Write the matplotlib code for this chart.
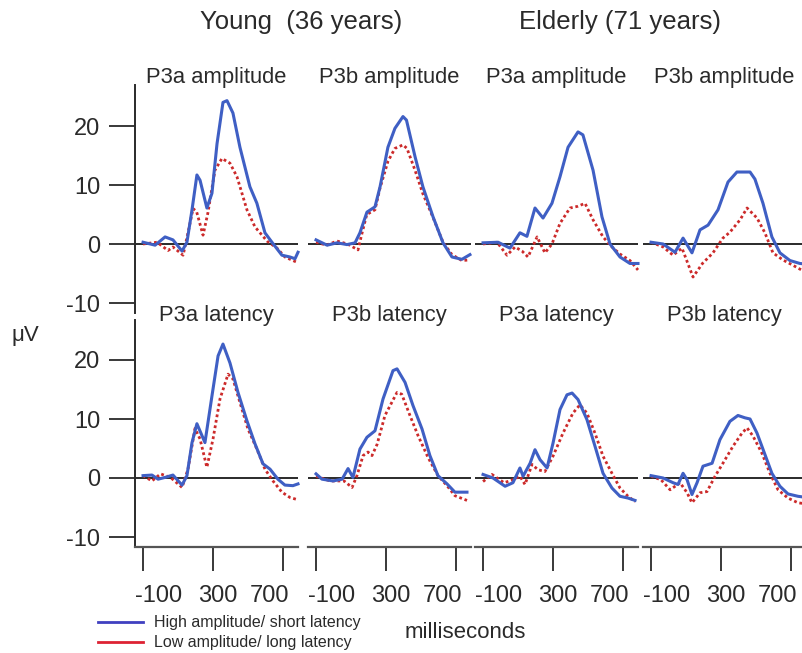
import matplotlib.pyplot as plt
import numpy as np

plt.rcParams['font.family'] = ['Liberation Sans', 'DejaVu Sans']
plt.rcParams['axes.unicode_minus'] = False

# ---- data (ms, microvolts) ----
# young, P3a amplitude
ya_amp_t_hi = [-100, -31, 26, 71, 123, 151, 180, 208, 226, 265, 294, 323, 357, 380, 414, 454, 511, 551, 597, 637, 694, 740, 769, 786]
ya_amp_hi = [0.3, -0.2, 1.2, 0.7, -1.2, 0.3, 5.8, 11.7, 10.8, 6.1, 8.6, 17.0, 24.0, 24.3, 22.2, 16.4, 9.7, 6.9, 1.9, 0.3, -1.9, -2.2, -2.5, -1.4]
ya_amp_t_lo = [-100, -20, 43, 71, 129, 157, 186, 206, 243, 271, 311, 351, 397, 437, 494, 540, 609, 666, 711, 780]
ya_amp_lo = [0.0, 0.3, -1.1, -0.5, -1.9, 1.9, 6.0, 5.5, 1.5, 5.3, 12.5, 14.5, 13.7, 11.4, 5.8, 2.9, 0.5, -0.7, -2.2, -3.1]

# young, P3b amplitude
yb_amp_t_hi = [-100, -37, 20, 77, 123, 151, 191, 237, 266, 311, 351, 397, 417, 466, 511, 569, 626, 677, 734, 780]
yb_amp_hi = [0.7, -0.2, 0.2, -0.1, 0.2, 1.9, 5.4, 6.3, 9.7, 16.4, 19.6, 21.6, 21.0, 14.8, 9.7, 4.6, 0.2, -2.2, -2.6, -1.8]
yb_amp_t_lo = [-100, -40, 20, 80, 140, 160, 190, 237, 266, 311, 351, 397, 420, 466, 511, 569, 626, 677, 734, 780]
yb_amp_lo = [0.3, -0.2, 0.5, 0.0, -1.0, 1.5, 5.0, 5.8, 9.5, 14.0, 16.2, 16.8, 16.2, 12.5, 8.5, 4.5, 0.3, -1.8, -2.8, -2.7]

# elderly, P3a amplitude
ea_amp_t_hi = [-100, -14, 54, 111, 151, 197, 243, 294, 340, 386, 443, 471, 529, 580, 626, 683, 740, 786]
ea_amp_hi = [0.2, 0.3, -0.7, 1.9, 1.3, 6.1, 4.4, 6.9, 11.4, 16.4, 19.0, 18.5, 12.5, 4.6, 0.0, -2.2, -3.3, -3.3]
ea_amp_t_lo = [-100, -20, 37, 83, 123, 157, 209, 254, 294, 340, 397, 443, 483, 529, 586, 637, 683, 740, 786]
ea_amp_lo = [0.0, 0.3, -1.9, -0.5, -1.2, -2.2, 1.2, -1.5, 0.0, 3.5, 6.1, 6.4, 6.9, 4.1, 1.2, -0.5, -1.7, -2.8, -4.4]

# elderly, P3b amplitude
eb_amp_t_hi = [-100, -31, 37, 83, 134, 180, 226, 283, 340, 391, 466, 494, 540, 591, 637, 694, 751, 790]
eb_amp_hi = [0.3, 0.0, -1.4, 1.0, -1.5, 2.4, 3.2, 5.8, 10.5, 12.2, 12.2, 11.0, 6.9, 1.2, -1.5, -2.8, -3.3, -3.4]
eb_amp_t_lo = [-100, -31, 26, 77, 140, 194, 254, 311, 351, 409, 449, 506, 551, 597, 654, 711, 760]
eb_amp_lo = [0.3, -0.5, -1.9, -0.7, -5.6, -3.3, -1.5, 1.0, 2.0, 4.1, 6.1, 4.4, 1.9, -1.5, -2.7, -3.6, -4.4]

# young, P3a latency
ya_lat_t_hi = [-100, -49, -14, 26, 71, 123, 151, 180, 208, 254, 294, 329, 357, 397, 443, 494, 540, 586, 626, 671, 711, 757, 786]
ya_lat_hi = [0.4, 0.5, -0.2, 0.1, 0.5, -1.2, 0.4, 6.0, 9.2, 6.0, 13.9, 20.7, 22.7, 19.5, 14.5, 9.7, 5.8, 2.4, 1.5, -0.2, -1.2, -1.3, -1.0]
ya_lat_t_lo = [-100, -49, 0, 57, 123, 157, 197, 226, 265, 300, 340, 386, 414, 454, 500, 551, 597, 643, 694, 740, 786]
ya_lat_lo = [0.4, -0.5, 0.7, 0.1, -1.6, 1.5, 8.4, 6.6, 1.8, 6.6, 13.4, 17.6, 16.8, 12.8, 8.3, 4.9, 1.5, -0.5, -2.4, -3.3, -3.7]

# young, P3b latency
yb_lat_t_hi = [-100, -66, -3, 49, 83, 111, 151, 191, 237, 283, 340, 363, 409, 454, 506, 551, 597, 649, 694, 763]
yb_lat_hi = [0.7, -0.2, -0.5, -0.2, 1.6, 0.1, 4.9, 6.9, 8.0, 13.4, 18.2, 18.5, 16.2, 12.3, 8.3, 3.8, 0.4, -1.0, -2.4, -2.4]
yb_lat_t_lo = [-100, -20, 60, 106, 134, 169, 197, 220, 249, 294, 363, 390, 437, 483, 540, 597, 649, 694, 763]
yb_lat_lo = [0.3, -0.5, -0.5, -1.6, 0.4, 3.8, 4.4, 3.8, 5.7, 10.6, 14.5, 14.2, 10.6, 7.2, 3.5, 0.4, -1.3, -3.0, -3.8]

# elderly, P3a latency
ea_lat_t_hi = [-100, -43, 26, 71, 111, 129, 169, 197, 226, 266, 300, 340, 380, 409, 443, 494, 540, 586, 637, 683, 729, 769]
ea_lat_hi = [0.6, 0.0, -1.4, -0.8, 1.7, 0.3, 2.5, 4.8, 3.1, 1.7, 5.9, 11.6, 14.1, 14.4, 13.3, 9.9, 5.4, 0.8, -1.7, -3.1, -3.4, -3.8]
ea_lat_t_lo = [-100, -49, 20, 71, 111, 140, 180, 214, 254, 300, 357, 414, 454, 494, 540, 586, 637, 683, 729, 769]
ea_lat_lo = [-0.6, 0.6, -0.8, -0.3, 0.3, -1.1, 2.3, 1.4, 1.1, 3.7, 7.6, 11.0, 12.4, 11.0, 7.6, 3.7, 0.8, -1.7, -3.1, -4.0]

# elderly, P3b latency
eb_lat_t_hi = [-100, -31, 26, 54, 83, 106, 134, 163, 197, 249, 294, 351, 397, 437, 466, 506, 551, 591, 637, 683, 740, 790]
eb_lat_hi = [0.4, 0.0, -0.8, -1.1, 0.8, -0.3, -2.8, -0.8, 2.0, 2.5, 6.5, 9.6, 10.6, 10.2, 10.0, 7.6, 4.0, 0.8, -1.4, -2.7, -3.1, -3.3]
eb_lat_t_lo = [-100, -43, 9, 66, 106, 134, 180, 220, 266, 311, 369, 420, 449, 483, 534, 580, 626, 683, 740, 790]
eb_lat_lo = [0.3, -0.3, -2.0, -0.8, -2.5, -4.2, -2.5, -2.3, 0.3, 2.5, 5.4, 7.6, 8.5, 7.1, 4.2, 0.8, -2.0, -3.4, -4.2, -4.4]

panel_titles = [['P3a amplitude', 'P3b amplitude', 'P3a amplitude', 'P3b amplitude'],
                ['P3a latency', 'P3b latency', 'P3a latency', 'P3b latency']]
group_titles = ['Young  (36 years)', 'Elderly (71 years)']
xticks = [-100, 300, 700]
xtick_labels = ['-100', '300', '700']
yticks = [-10, 0, 10, 20]

series = [
    [(ya_amp_t_hi, ya_amp_hi, ya_amp_t_lo, ya_amp_lo),
     (yb_amp_t_hi, yb_amp_hi, yb_amp_t_lo, yb_amp_lo),
     (ea_amp_t_hi, ea_amp_hi, ea_amp_t_lo, ea_amp_lo),
     (eb_amp_t_hi, eb_amp_hi, eb_amp_t_lo, eb_amp_lo)],
    [(ya_lat_t_hi, ya_lat_hi, ya_lat_t_lo, ya_lat_lo),
     (yb_lat_t_hi, yb_lat_hi, yb_lat_t_lo, yb_lat_lo),
     (ea_lat_t_hi, ea_lat_hi, ea_lat_t_lo, ea_lat_lo),
     (eb_lat_t_hi, eb_lat_hi, eb_lat_t_lo, eb_lat_lo)],
]

BLUE = '#3f5fc4'
RED = '#cc2a2a'
INK = '#2a2a2a'

W, H = 802, 653
fig = plt.figure(figsize=(W / 100, H / 100), dpi=100)


def box(left, top, w, h):
    # pixel box -> figure fraction
    return [left / W, 1 - (top + h) / H, w / W, h / H]


col_left = [135, 308, 475, 643]
row_top = [85, 320]
row_h = [228, 227]
row_zero = [244, 478]
px_per_uv = 5.9
panel_w = 163
# in the original the numbers under the ticks sit a bit squeezed toward the middle
label_shift = [90, 25, -75]

for r in range(2):
    for c in range(4):
        ax = fig.add_axes(box(col_left[c], row_top[r], panel_w, row_h[r]))
        ax.set_facecolor('none')
        ax.set_xlim(-146, 786)
        top_v = (row_zero[r] - row_top[r]) / px_per_uv
        bot_v = -(row_top[r] + row_h[r] - row_zero[r]) / px_per_uv
        ax.set_ylim(bot_v, top_v)
        for s in ax.spines.values():
            s.set_visible(False)
        ax.axhline(0, color=INK, lw=1.4, zorder=1)

        t_hi, v_hi, t_lo, v_lo = series[r][c]
        ax.plot(t_hi, v_hi, color=BLUE, lw=2.2, zorder=3, clip_on=False)
        ax.plot(t_lo, v_lo, color=RED, lw=2.0, ls=(0, (1, 1)), zorder=2, clip_on=False)

        if c == 0:
            ax.spines['left'].set_visible(True)
            ax.spines['left'].set_color(INK)
            ax.spines['left'].set_linewidth(1.4)
            ax.set_yticks(yticks)
            ax.tick_params(axis='y', length=19, width=1.3, pad=6, labelsize=17,
                           color=INK, labelcolor=INK)
        else:
            ax.set_yticks([])

        if r == 1:
            ax.spines['bottom'].set_visible(True)
            ax.spines['bottom'].set_color('#555555')
            ax.spines['bottom'].set_linewidth(1.6)
            ax.set_xticks(xticks)
            ax.set_xticklabels([])
            ax.tick_params(axis='x', which='major', length=17, width=1.3, color=INK)
            ax.set_xticks([t + d for t, d in zip(xticks, label_shift)], minor=True)
            ax.set_xticklabels(xtick_labels, minor=True)
            ax.tick_params(axis='x', which='minor', length=0, pad=27, labelsize=17,
                           labelcolor=INK)
        else:
            ax.set_xticks([])

        cx = col_left[c] + panel_w / 2
        ty = 77 if r == 0 else 316
        fig.text(cx / W, 1 - ty / H, panel_titles[r][c], ha='center', va='center',
                 fontsize=15.8, color=INK)

fig.text(301 / W, 1 - 22 / H, group_titles[0], ha='center', va='center', fontsize=18.5, color=INK)
fig.text(620 / W, 1 - 22 / H, group_titles[1], ha='center', va='center', fontsize=18.5, color=INK)
fig.text(25 / W, 1 - 335 / H, '\u03bcV', ha='center', va='center', fontsize=16, color=INK)
fig.text(465 / W, 1 - 632 / H, 'milliseconds', ha='center', va='center', fontsize=16, color=INK)

# legend drawn by hand in the lower left corner
leg = fig.add_axes([0, 0, 1, 1])
leg.set_axis_off()
leg.set_xlim(0, W)
leg.set_ylim(H, 0)
leg.plot([98, 143], [622, 622], color='#4040c0', lw=2)
leg.plot([98, 143], [642, 642], color='#dd2233', lw=2)
leg.text(154, 622, 'High amplitude/ short latency', va='center', fontsize=11.5, color=INK)
leg.text(154, 642, 'Low amplitude/ long latency', va='center', fontsize=11.5, color=INK)

fig.savefig('out.png', dpi=100)
